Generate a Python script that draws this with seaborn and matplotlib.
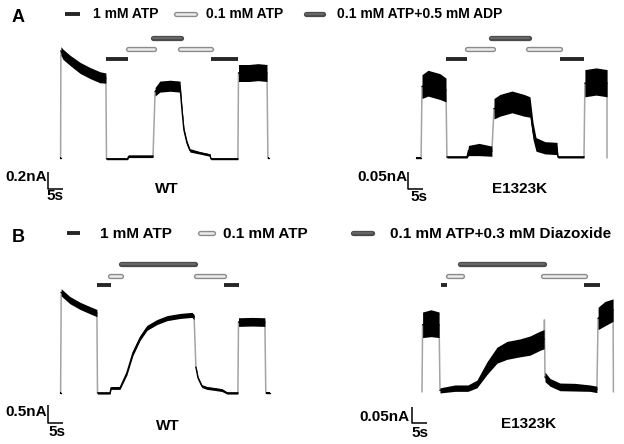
import matplotlib
matplotlib.use("Agg")
import matplotlib.pyplot as plt
import seaborn as sns
import pandas as pd

sns.set_theme(style="white")
plt.rcParams['font.family'] = ['Liberation Sans', 'DejaVu Sans']
plt.rcParams['font.weight'] = 'bold'

# ---- current traces: segments of (time s, current nA, noise half-width nA) ----
# A, WT, ATP / ADP protocol
a_wt = [
    [(0, 0, 0.006), (0.2, 0, 0.006)],
    [(0.3, 1.26, 0.05), (1, 1.22, 0.06), (3.3, 1.15, 0.06), (6.7, 1.06, 0.065),
     (10, 1.0, 0.065), (13.3, 0.95, 0.065), (15.3, 0.94, 0.06)],
    [(15.5, -0.01, 0.01), (22.5, -0.01, 0.01), (22.9, 0.02, 0.015), (31, 0.02, 0.015)],
    [(31.7, 0.78, 0.05), (33.3, 0.84, 0.065), (36.7, 0.85, 0.065), (40, 0.84, 0.065),
     (40.7, 0.55, 0.04), (41.3, 0.33, 0.03), (42.3, 0.18, 0.025), (43.3, 0.09, 0.02),
     (46.7, 0.06, 0.015), (50, 0.035, 0.015), (50.3, -0.01, 0.01), (59.3, -0.01, 0.01)],
    [(59.5, 1.0, 0.1), (63, 1.0, 0.1), (66, 1.01, 0.1), (69, 1.0, 0.1)],
    [(69.3, 0, 0.006), (69.6, 0, 0.006)],
]
# A, E1323K, ATP / ADP protocol
a_mut = [
    [(0, 0, 0.002), (1.7, 0, 0.002)],
    [(2, 0.21, 0.035), (4, 0.22, 0.038), (6, 0.215, 0.038), (8, 0.21, 0.038), (10, 0.2, 0.035)],
    [(10.3, 0.003, 0.003), (17, 0.003, 0.003), (17.5, 0.022, 0.015), (21, 0.025, 0.018),
     (25.3, 0.02, 0.015)],
    [(26, 0.145, 0.03), (28, 0.155, 0.032), (32, 0.165, 0.032), (36, 0.155, 0.032),
     (38, 0.15, 0.03), (39, 0.08, 0.025), (40, 0.04, 0.02), (43, 0.03, 0.018),
     (47, 0.028, 0.018), (47.3, 0.003, 0.003), (56, 0.003, 0.003)],
    [(56.3, 0.22, 0.04), (60, 0.225, 0.04), (63.7, 0.22, 0.04)],
    [(63.7, 0, 0)],
]
# B, WT, ATP / diazoxide protocol
b_wt = [
    [(0, 0, 0.02), (0.2, 0, 0.02)],
    [(0.4, 2.8, 0.1), (1, 2.75, 0.1), (3.3, 2.58, 0.1), (6.7, 2.42, 0.1), (10, 2.3, 0.1),
     (12.3, 2.22, 0.1)],
    [(12.5, 0, 0.03), (16.7, 0, 0.03), (17, 0.14, 0.04), (20, 0.14, 0.04), (22.3, 0.56, 0.06),
     (24.3, 1.11, 0.07), (26.7, 1.53, 0.07), (29, 1.81, 0.07), (32.3, 1.97, 0.07),
     (35.7, 2.08, 0.07), (40, 2.14, 0.07), (44, 2.17, 0.07), (44.7, 2.11, 0.07)],
    [(45.3, 0.72, 0.04), (46, 0.42, 0.04), (47.3, 0.19, 0.04), (49, 0.14, 0.04),
     (51.7, 0.11, 0.04), (54, 0.08, 0.04), (55.7, 0, 0.03), (59.3, 0, 0.03)],
    [(59.5, 1.97, 0.12), (64, 1.98, 0.12), (68.3, 1.97, 0.12)],
    [(68.6, 0, 0.02), (70, 0, 0.02)],
]
# B, E1323K, ATP / diazoxide protocol
b_mut = [
    [(0, 0, 0)],
    [(0.2, 0.21, 0.04), (3, 0.215, 0.042), (5.7, 0.21, 0.04)],
    [(6, 0.005, 0.008), (11, 0.012, 0.01), (15.3, 0.012, 0.01), (18.3, 0.025, 0.012),
     (21.7, 0.075, 0.02), (25, 0.115, 0.025), (28.3, 0.13, 0.028), (32.7, 0.138, 0.028),
     (36, 0.145, 0.03), (39.3, 0.16, 0.03), (40.7, 0.165, 0.03)],
    [(40.8, 0.225, 0)],
    [(41, 0.047, 0.015), (42.7, 0.03, 0.012), (46, 0.016, 0.012), (51, 0.015, 0.012),
     (56, 0.012, 0.01), (58.3, 0.008, 0.01)],
    [(58.7, 0.23, 0.035), (61, 0.245, 0.038), (63.7, 0.256, 0.035)],
    [(63.8, 0, 0)],
]

# ---- solution application bars: (solution, start s, end s) ----
a_wt_bars = [("hi", 15.3, 22.7), ("lo", 22.7, 31.3), ("mix", 31.0, 40.3),
             ("lo", 40.0, 50.3), ("hi", 50.3, 59.3)]
a_mut_bars = [("hi", 10, 17), ("lo", 17, 25.7), ("mix", 25, 37.7),
              ("lo", 37.3, 48), ("hi", 48, 56)]
b_wt_bars = [("hi", 12.3, 17), ("lo", 16.7, 20.3), ("mix", 20.3, 45),
             ("lo", 45.3, 54.7), ("hi", 54.7, 59.7)]
b_mut_bars = [("hi", 6.3, 8.3), ("lo", 8.7, 13.3), ("mix", 12.7, 40.7),
              ("lo", 40.3, 54.3), ("hi", 54, 59.3)]

legend_a = ["1 mM ATP", "0.1 mM ATP", "0.1 mM ATP+0.5 mM ADP"]
legend_b = ["1 mM ATP", "0.1 mM ATP", "0.1 mM ATP+0.3 mM Diazoxide"]
scale_s = 5
scale_nA = {"a_wt": 0.2, "a_mut": 0.05, "b_wt": 0.5, "b_mut": 0.05}

# ---- figure ----
W, H = 624, 444
PX_S = 3.0
fig = plt.figure(figsize=(W / 100, H / 100), dpi=100)
ov = fig.add_axes([0, 0, 1, 1], zorder=5)
ov.set_xlim(0, W)
ov.set_ylim(H, 0)
ov.axis("off")
ov.patch.set_alpha(0)

GRAY = "#a4a4a4"


def bar(ax, x0, x1, y, kind):
    if kind == "hi":
        ax.plot([x0, x1], [y, y], color="#262626", lw=2.8, solid_capstyle="butt")
    elif kind == "lo":
        ax.plot([x0, x1], [y, y], color="#8a8a8a", lw=3.8, solid_capstyle="round")
        ax.plot([x0, x1], [y, y], color="#ececec", lw=1.8, solid_capstyle="round")
    else:
        ax.plot([x0, x1], [y, y], color="#4a4a4a", lw=3.8, solid_capstyle="round")
        ax.plot([x0, x1], [y, y], color="#666666", lw=1.6, solid_capstyle="round")


def panel(key, segs, bars, box, origin, px_nA, rows, corner):
    l, t, r, b = box
    x0, y0 = origin
    ax = fig.add_axes([l / W, 1 - b / H, (r - l) / W, (b - t) / H])
    rows_d = {k: (y0 - v) / px_nA for k, v in rows.items()}

    df = pd.DataFrame([(i, p[0], p[1], p[2]) for i, s in enumerate(segs) for p in s],
                      columns=["seg", "t", "I", "w"])
    # gray fast transitions between segments
    for i in range(len(segs) - 1):
        a, c = segs[i][-1], segs[i + 1][0]
        ax.plot([a[0], c[0]], [a[1], c[1]], color=GRAY, lw=1.1, zorder=1)
    for _, g in df.groupby("seg"):
        if len(g) > 1:
            ax.fill_between(g["t"], g["I"] - g["w"], g["I"] + g["w"], color="black",
                            lw=0, zorder=2)
    sns.lineplot(data=df[df.groupby("seg")["t"].transform("size") > 1], x="t", y="I",
                 units="seg", estimator=None, color="black", lw=1.0, ax=ax,
                 legend=False, zorder=3)
    ax.set_xlim((l - x0) / PX_S, (r - x0) / PX_S)
    ax.set_ylim((y0 - b) / px_nA, (y0 - t) / px_nA)
    ax.axis("off")

    for kind, s0, s1 in bars:
        bar(ax, s0, s1, rows_d[kind], kind)

    ct = (corner[0] - x0) / PX_S
    ci = (y0 - corner[1]) / px_nA
    ax.plot([ct, ct, ct + scale_s], [ci + scale_nA[key], ci, ci], color="black", lw=1.1,
            solid_capstyle="butt")
    return ax


rows_a = {"hi": 59, "lo": 49, "mix": 38}
rows_b = {"hi": 285, "lo": 276, "mix": 264}
panel("a_wt", a_wt, a_wt_bars, (0, 25, 312, 215), (60, 158), 85, rows_a, (48, 189))
panel("a_mut", a_mut, a_mut_bars, (312, 25, 624, 215), (416, 158), 340, rows_a, (408, 189))
panel("b_wt", b_wt, b_wt_bars, (0, 245, 312, 444), (60, 393), 36, rows_b, (48, 423))
panel("b_mut", b_mut, b_mut_bars, (312, 245, 624, 444), (422, 392), 320, rows_b, (412, 423))

# ---- text and legends ----
txt = dict(fontweight="bold", color="black")
ov.text(12, 17.5, "A", fontsize=13, ha="left", va="center", **txt)
ov.text(12, 237.5, "B", fontsize=13, ha="left", va="center", **txt)

for (x0, x1), kind in zip([(65, 80), (176, 195), (306, 323)], ["hi", "lo", "mix"]):
    bar(ov, x0, x1, 14, kind)
for x, s in zip([93, 206, 337], legend_a):
    ov.text(x, 13.5, s, fontsize=10, ha="left", va="center", **txt)
for (x0, x1), kind in zip([(67, 80), (200, 213), (353, 372)], ["hi", "lo", "mix"]):
    bar(ov, x0, x1, 233, kind)
for x, s in zip([100, 223, 390], legend_b):
    ov.text(x, 233.5, s, fontsize=11, ha="left", va="center", **txt)

labels = [
    ("0.2nA", 47, 177, "right"), ("5s", 55, 196, "center"), ("WT", 167, 189, "center"),
    ("0.05nA", 407, 177, "right"), ("5s", 419, 197, "center"), ("E1323K", 520, 189, "center"),
    ("0.5nA", 47, 412, "right"), ("5s", 57, 432, "center"), ("WT", 168, 426, "center"),
    ("0.05nA", 410, 417, "right"), ("5s", 420, 433, "center"), ("E1323K", 529, 424, "center"),
]
for s, x, y, ha in labels:
    ov.text(x, y, s, fontsize=11, ha=ha, va="center", **txt)

fig.savefig("out.png", dpi=100, facecolor="white")
